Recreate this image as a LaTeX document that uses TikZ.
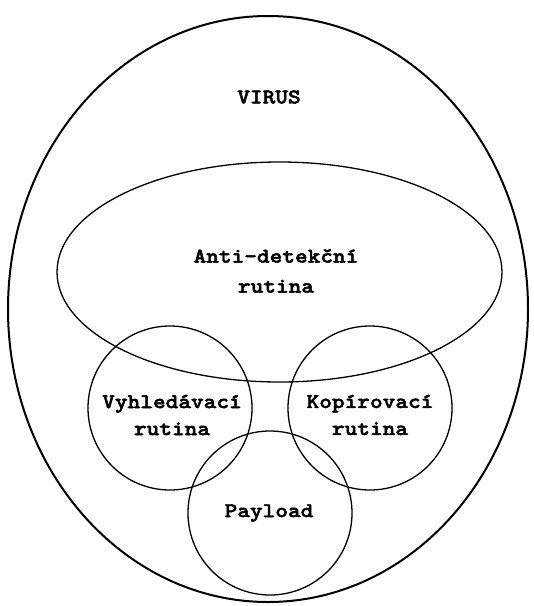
\documentclass[tikz,border=0pt]{standalone}
\usepackage{fontspec}
\newfontfamily\labelfont[FakeStretch=1.15,FakeBold=2.2]{lmmonolt10-bold.otf}
\usetikzlibrary{shapes.geometric}
\begin{document}
\begin{tikzpicture}[x=1pt,y=-1pt,
  label text/.style={font=\labelfont\fontsize{21}{27}\selectfont, align=center, inner sep=0pt},
  thin outline/.style={draw=black, line width=1.3pt},
  thick outline/.style={draw=black, line width=2pt}]
  \useasboundingbox (0,0) rectangle (534,606);
  % outer virus body
  \draw[thick outline] (268,309) ellipse [x radius=260, y radius=293];
  % anti-detection routine
  \draw[thin outline] (279.5,272) ellipse [x radius=222.5, y radius=110];
  % three routines
  \draw[thin outline] (170,408) circle [radius=82];
  \draw[thin outline] (370,408) circle [radius=82];
  \draw[thin outline] (270,513) circle [radius=82];
  % labels
  \node[label text, font=\labelfont\fontsize{21}{30}\selectfont] (virus) at (269,97) {VIRUS};
  \node[label text, font=\labelfont\fontsize{21}{30}\selectfont] (anti) at (276,271) {Anti-detekční\\rutina};
  \node[label text] (search) at (172,415) {Vyhledávací\\rutina};
  \node[label text] (copy) at (370,415) {Kopírovací\\rutina};
  \node[label text] (payload) at (269,513) {Payload};
\end{tikzpicture}
\end{document}
